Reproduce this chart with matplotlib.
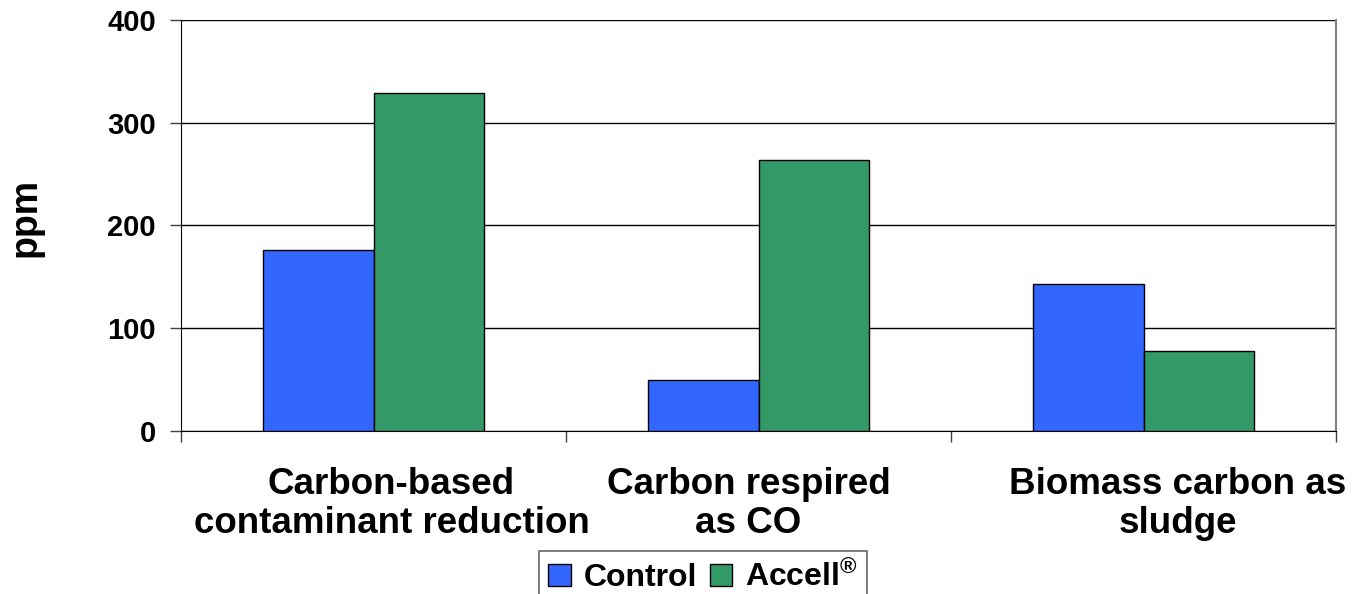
import matplotlib.pyplot as plt
import matplotlib.transforms as mtransforms
import numpy as np

plt.rcParams['font.family'] = ['Liberation Sans', 'DejaVu Sans']
plt.rcParams['font.weight'] = 'bold'
plt.rcParams['mathtext.fontset'] = 'custom'
plt.rcParams['mathtext.rm'] = 'Liberation Sans:bold'
plt.rcParams['mathtext.it'] = 'Liberation Sans:bold'

categories = ['Carbon-based\ncontaminant reduction',
              'Carbon respired\nas CO',
              'Biomass carbon as\nsludge']
control = [176, 50, 143]
accell = [329, 264, 78]
series_names = ['Control', r'Accell$^{®}$']
yticks = [0, 100, 200, 300, 400]

fig = plt.figure(figsize=(13.52, 5.94), dpi=100)
ax = fig.add_axes([181 / 1352, 1 - 431 / 594, (1336 - 181) / 1352, (431 - 20) / 594])

x = np.arange(len(categories))
w = 0.288
b1 = ax.bar(x - w / 2, control, w, color='#3366FF', edgecolor='black', linewidth=1.0,
            label=series_names[0], zorder=3)
b2 = ax.bar(x + w / 2, accell, w, color='#339966', edgecolor='black', linewidth=1.0,
            label=series_names[1], zorder=3)

ax.set_xlim(-0.5, len(categories) - 0.5)
ax.set_ylim(0, 400)
ax.set_yticks(yticks)
ax.yaxis.grid(True, color='black', linewidth=1.0, zorder=0)
ax.set_axisbelow(True)

# group separators as ticks below the axis, labels at group centres
ax.set_xticks(x)
ax.set_xticklabels(categories, fontsize=26.5, fontweight='bold', multialignment='center',
                   linespacing=1.15)
ax.set_xticks(np.arange(len(categories) + 1) - 0.5, minor=True)
ax.tick_params(axis='x', which='major', length=0, pad=26)
ax.tick_params(axis='x', which='minor', length=8, width=1.0, color='#404040', direction='out')
ax.tick_params(axis='y', length=8, width=1.0, pad=10, labelsize=21, color='#404040')
for lbl in ax.get_yticklabels():
    lbl.set_fontweight('bold')

shifts = [18, -10, 34]
for lbl, dx in zip(ax.get_xticklabels(), shifts):
    lbl.set_transform(lbl.get_transform() + mtransforms.ScaledTranslation(dx / 100, 0, fig.dpi_scale_trans))

ax.set_ylabel('ppm', fontsize=27, fontweight='bold')
ax.yaxis.set_label_coords(-0.119, 0.52)

ax.spines['top'].set_visible(False)
ax.spines['left'].set_color('black')
ax.spines['bottom'].set_color('black')
ax.spines['right'].set_color('#808080')
ax.spines['right'].set_linewidth(1.5)

leg = fig.legend(handles=[b1, b2], loc='upper center', bbox_to_anchor=(0.52, 1 - 551 / 594),
                 ncol=2, fontsize=23, frameon=True, fancybox=False, edgecolor='#404040',
                 handlelength=0.7, handleheight=0.7, handletextpad=0.4, columnspacing=0.4,
                 borderpad=0.3, borderaxespad=0)
leg.get_frame().set_linewidth(1.2)
for t in leg.get_texts():
    t.set_fontweight('bold')

fig.savefig('out.png', dpi=100)
